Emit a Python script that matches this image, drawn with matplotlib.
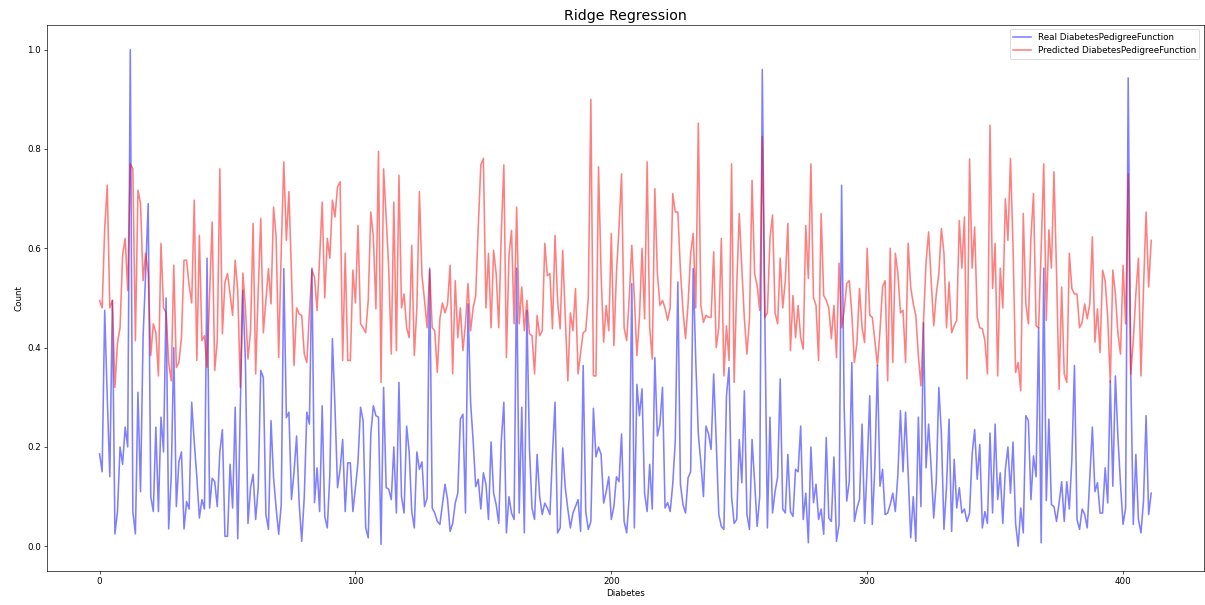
import matplotlib
matplotlib.use("Agg")
import matplotlib.pyplot as plt
import numpy as np

# valores (indice 0..411)
real_dpf = [
    0.186, 0.15, 0.475, 0.30, 0.14, 0.495, 0.025, 0.07, 0.2, 0.165,
    0.24, 0.2, 1.0, 0.07, 0.025, 0.31, 0.11, 0.42, 0.55, 0.69,
    0.1, 0.07, 0.24, 0.07, 0.26, 0.19, 0.5, 0.035, 0.14, 0.4,
    0.08, 0.17, 0.19, 0.035, 0.09, 0.075, 0.29, 0.21, 0.14, 0.057,
    0.094, 0.075, 0.58, 0.077, 0.137, 0.13, 0.08, 0.19, 0.235, 0.02,
    0.02, 0.165, 0.077, 0.28, 0.015, 0.28, 0.515, 0.37, 0.046, 0.118,
    0.145, 0.054, 0.118, 0.354, 0.34, 0.064, 0.034, 0.253, 0.138, 0.077,
    0.024, 0.084, 0.559, 0.259, 0.27, 0.094, 0.15, 0.222, 0.087, 0.01,
    0.1, 0.27, 0.246, 0.56, 0.088, 0.158, 0.07, 0.283, 0.06, 0.037,
    0.145, 0.418, 0.28, 0.118, 0.155, 0.215, 0.07, 0.168, 0.168, 0.07,
    0.118, 0.17, 0.28, 0.253, 0.037, 0.017, 0.226, 0.283, 0.263, 0.26,
    0.004, 0.32, 0.118, 0.115, 0.094, 0.2, 0.067, 0.33, 0.1, 0.067,
    0.242, 0.19, 0.07, 0.037, 0.19, 0.155, 0.17, 0.08, 0.097, 0.56,
    0.077, 0.067, 0.05, 0.044, 0.084, 0.125, 0.094, 0.03, 0.046, 0.087,
    0.107, 0.256, 0.266, 0.067, 0.488, 0.29, 0.212, 0.12, 0.135, 0.075,
    0.148, 0.125, 0.054, 0.21, 0.107, 0.084, 0.046, 0.212, 0.29, 0.027,
    0.1, 0.067, 0.054, 0.56, 0.067, 0.28, 0.027, 0.475, 0.198, 0.077,
    0.054, 0.185, 0.1, 0.064, 0.087, 0.077, 0.064, 0.185, 0.29, 0.027,
    0.037, 0.198, 0.118, 0.075, 0.037, 0.067, 0.08, 0.094, 0.03, 0.364,
    0.07, 0.034, 0.05, 0.278, 0.18, 0.2, 0.185, 0.087, 0.11, 0.14,
    0.054, 0.08, 0.14, 0.13, 0.226, 0.05, 0.027, 0.1, 0.529, 0.037,
    0.326, 0.263, 0.317, 0.107, 0.07, 0.165, 0.075, 0.38, 0.222, 0.246,
    0.32, 0.077, 0.088, 0.07, 0.125, 0.212, 0.532, 0.125, 0.084, 0.067,
    0.138, 0.15, 0.559, 0.374, 0.226, 0.168, 0.1, 0.242, 0.226, 0.195,
    0.347, 0.212, 0.064, 0.04, 0.034, 0.303, 0.36, 0.1, 0.046, 0.054,
    0.215, 0.128, 0.313, 0.064, 0.034, 0.215, 0.13, 0.04, 0.1, 0.96,
    0.46, 0.037, 0.26, 0.067, 0.11, 0.14, 0.337, 0.075, 0.067, 0.185,
    0.07, 0.06, 0.155, 0.15, 0.242, 0.054, 0.107, 0.007, 0.2, 0.088,
    0.125, 0.054, 0.075, 0.024, 0.219, 0.057, 0.05, 0.18, 0.01, 0.044,
    0.727, 0.28, 0.091, 0.13, 0.37, 0.05, 0.077, 0.094, 0.246, 0.046,
    0.161, 0.303, 0.044, 0.161, 0.364, 0.121, 0.155, 0.064, 0.067, 0.084,
    0.107, 0.07, 0.145, 0.273, 0.15, 0.27, 0.148, 0.017, 0.1, 0.01,
    0.26, 0.08, 0.45, 0.158, 0.246, 0.158, 0.057, 0.13, 0.32, 0.226,
    0.034, 0.12, 0.256, 0.03, 0.175, 0.077, 0.118, 0.067, 0.075, 0.05,
    0.067, 0.185, 0.235, 0.135, 0.205, 0.037, 0.07, 0.046, 0.228, 0.067,
    0.246, 0.094, 0.148, 0.046, 0.155, 0.2, 0.107, 0.21, 0.046, 0.0,
    0.077, 0.027, 0.263, 0.253, 0.094, 0.182, 0.14, 0.44, 0.007, 0.56,
    0.092, 0.256, 0.084, 0.08, 0.05, 0.087, 0.13, 0.05, 0.13, 0.075,
    0.175, 0.364, 0.054, 0.034, 0.075, 0.064, 0.037, 0.14, 0.24, 0.11,
    0.128, 0.067, 0.067, 0.158, 0.087, 0.333, 0.121, 0.343, 0.219, 0.125,
    0.044, 0.077, 0.943, 0.347, 0.044, 0.185, 0.054, 0.027, 0.092, 0.263,
    0.064, 0.107,
]

pred_dpf = [
    0.495, 0.48, 0.64, 0.727, 0.48, 0.495, 0.32, 0.41, 0.44, 0.586,
    0.62, 0.515, 0.77, 0.76, 0.414, 0.717, 0.69, 0.535, 0.59, 0.55,
    0.384, 0.448, 0.43, 0.343, 0.61, 0.48, 0.47, 0.37, 0.333, 0.566,
    0.36, 0.37, 0.42, 0.576, 0.576, 0.525, 0.49, 0.697, 0.374, 0.626,
    0.414, 0.424, 0.36, 0.508, 0.653, 0.354, 0.414, 0.76, 0.428, 0.532,
    0.549, 0.508, 0.465, 0.576, 0.515, 0.32, 0.55, 0.48, 0.377, 0.434,
    0.65, 0.347, 0.515, 0.66, 0.43, 0.495, 0.559, 0.488, 0.683, 0.623,
    0.38, 0.596, 0.774, 0.616, 0.714, 0.549, 0.364, 0.48, 0.468, 0.465,
    0.387, 0.37, 0.47, 0.556, 0.542, 0.475, 0.58, 0.693, 0.5, 0.62,
    0.58, 0.697, 0.663, 0.724, 0.734, 0.374, 0.59, 0.374, 0.374, 0.556,
    0.49, 0.646, 0.448, 0.44, 0.43, 0.495, 0.673, 0.623, 0.478, 0.795,
    0.33, 0.76, 0.663, 0.56, 0.387, 0.693, 0.394, 0.747, 0.48, 0.508,
    0.44, 0.42, 0.606, 0.384, 0.48, 0.714, 0.545, 0.495, 0.44, 0.556,
    0.44, 0.434, 0.35, 0.458, 0.49, 0.47, 0.488, 0.566, 0.347, 0.535,
    0.42, 0.48, 0.394, 0.448, 0.529, 0.434, 0.48, 0.505, 0.643, 0.768,
    0.781, 0.48, 0.59, 0.44, 0.596, 0.549, 0.44, 0.63, 0.768, 0.38,
    0.586, 0.636, 0.448, 0.683, 0.448, 0.522, 0.434, 0.495, 0.428, 0.424,
    0.347, 0.465, 0.424, 0.434, 0.61, 0.545, 0.549, 0.438, 0.626, 0.495,
    0.438, 0.596, 0.461, 0.333, 0.47, 0.434, 0.519, 0.347, 0.39, 0.43,
    0.434, 0.501, 0.9, 0.343, 0.343, 0.764, 0.549, 0.411, 0.485, 0.434,
    0.63, 0.404, 0.55, 0.64, 0.75, 0.44, 0.414, 0.5, 0.606, 0.5,
    0.384, 0.461, 0.6, 0.458, 0.774, 0.44, 0.377, 0.72, 0.549, 0.485,
    0.495, 0.48, 0.455, 0.48, 0.71, 0.673, 0.673, 0.556, 0.475, 0.418,
    0.488, 0.59, 0.63, 0.48, 0.852, 0.485, 0.451, 0.465, 0.461, 0.461,
    0.593, 0.4, 0.44, 0.62, 0.343, 0.444, 0.374, 0.77, 0.33, 0.522,
    0.67, 0.56, 0.458, 0.387, 0.458, 0.737, 0.549, 0.525, 0.475, 0.825,
    0.461, 0.47, 0.62, 0.667, 0.47, 0.448, 0.58, 0.48, 0.535, 0.65,
    0.394, 0.505, 0.42, 0.485, 0.42, 0.397, 0.646, 0.539, 0.77, 0.501,
    0.485, 0.374, 0.67, 0.505, 0.495, 0.48, 0.418, 0.485, 0.38, 0.57,
    0.44, 0.475, 0.529, 0.535, 0.468, 0.37, 0.41, 0.519, 0.44, 0.41,
    0.6, 0.465, 0.461, 0.414, 0.364, 0.434, 0.522, 0.535, 0.333, 0.6,
    0.37, 0.59, 0.549, 0.47, 0.475, 0.37, 0.61, 0.522, 0.488, 0.465,
    0.384, 0.323, 0.451, 0.572, 0.633, 0.535, 0.444, 0.508, 0.549, 0.64,
    0.59, 0.44, 0.532, 0.43, 0.444, 0.455, 0.656, 0.56, 0.663, 0.337,
    0.78, 0.56, 0.643, 0.461, 0.44, 0.438, 0.414, 0.347, 0.848, 0.519,
    0.61, 0.343, 0.56, 0.48, 0.7, 0.616, 0.781, 0.603, 0.35, 0.37,
    0.313, 0.67, 0.488, 0.448, 0.623, 0.71, 0.444, 0.44, 0.6, 0.77,
    0.455, 0.637, 0.56, 0.754, 0.549, 0.316, 0.522, 0.347, 0.33, 0.59,
    0.519, 0.508, 0.508, 0.44, 0.451, 0.488, 0.458, 0.488, 0.623, 0.411,
    0.478, 0.39, 0.556, 0.535, 0.461, 0.33, 0.556, 0.508, 0.428, 0.387,
    0.566, 0.448, 0.75, 0.347, 0.414, 0.508, 0.58, 0.343, 0.522, 0.673,
    0.522, 0.616,
]

x = np.arange(len(real_dpf))

fig = plt.figure(figsize=(1205 / 60, 605 / 60), dpi=60)
ax = fig.add_axes([0.039, 0.056, 0.96, 0.903])
ax.plot(x, real_dpf, color="blue", alpha=0.5, linewidth=1.9, label="Real DiabetesPedigreeFunction")
ax.plot(x, pred_dpf, color="red", alpha=0.5, linewidth=1.9, label="Predicted DiabetesPedigreeFunction")
ax.set_title("Ridge Regression", fontsize=17)
ax.set_xlabel("Diabetes", fontsize=10.5)
ax.set_ylabel("Count", fontsize=10.5)
ax.tick_params(labelsize=10.5)
ax.legend(loc="upper right", fontsize=10.5)

fig.savefig("out.png", dpi=60)
